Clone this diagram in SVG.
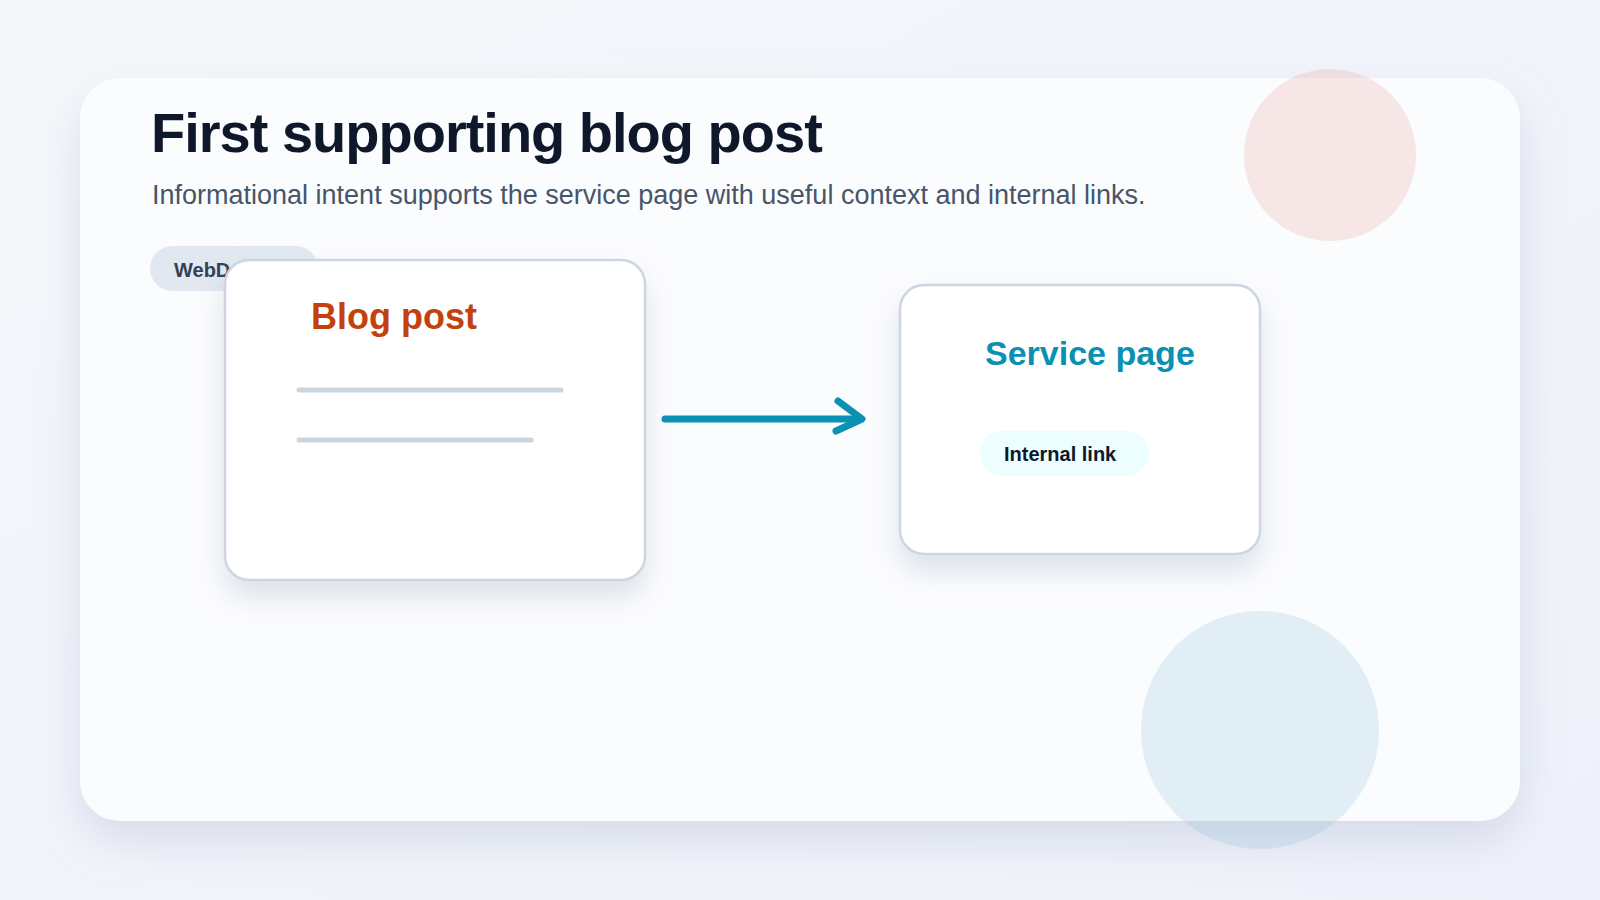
<svg xmlns="http://www.w3.org/2000/svg" width="1600" height="900" viewBox="0 0 1600 900">
  <defs>
    <linearGradient id="bg" x1="0" y1="0" x2="1" y2="1">
      <stop offset="0" stop-color="#f5f7fb"/>
      <stop offset="1" stop-color="#eef1f9"/>
    </linearGradient>
    <filter id="cardShadow" x="-10%" y="-10%" width="120%" height="130%">
      <feDropShadow dx="0" dy="20" stdDeviation="22" flood-color="#a7b0d0" flood-opacity="0.35"/>
    </filter>
    <filter id="nodeShadow" x="-20%" y="-20%" width="140%" height="150%">
      <feDropShadow dx="0" dy="16" stdDeviation="14" flood-color="#94a3b8" flood-opacity="0.3"/>
    </filter>
    <style>
      .sans { font-family: "Liberation Sans", Arial, Helvetica, sans-serif; }
      .node { fill: #ffffff; stroke: #cdd5e1; stroke-width: 2.5; }
      .line { stroke: #cbd5e1; stroke-width: 5; stroke-linecap: round; }
      .conn { fill: none; stroke: #0b91b3; stroke-width: 7; stroke-linecap: round; stroke-linejoin: round; }
    </style>
  </defs>

  <rect width="1600" height="900" fill="url(#bg)"/>

  <g id="card">
    <rect x="80" y="78" width="1440" height="743" rx="40" fill="#fbfcfe" filter="url(#cardShadow)"/>
  </g>

  <g id="decor">
    <circle cx="1330" cy="155" r="86" fill="#e8a49b" opacity="0.25"/>
    <circle cx="1260" cy="730" r="119" fill="#7fb8d4" opacity="0.2"/>
  </g>

  <g id="header">
    <text x="151" y="152" class="sans" font-size="56" font-weight="700" fill="#0f172a" letter-spacing="-1">First supporting blog post</text>
    <text x="152" y="204" class="sans" font-size="27" fill="#475569">Informational intent supports the service page with useful context and internal links.</text>
  </g>

  <g id="tag">
    <rect x="150" y="246" width="168" height="45" rx="22.5" fill="#e2e8f0"/>
    <text x="174" y="277" class="sans" font-size="20" font-weight="700" fill="#334155">WebD</text>
  </g>

  <g id="blog-post">
    <rect x="225" y="260" width="420" height="320" rx="24" class="node" filter="url(#nodeShadow)"/>
    <text x="311" y="329" class="sans" font-size="36" font-weight="700" fill="#c2410c">Blog post</text>
    <line x1="299" y1="390" x2="561" y2="390" class="line"/>
    <line x1="299" y1="440" x2="531" y2="440" class="line"/>
  </g>

  <g id="service-page">
    <rect x="900" y="285" width="360" height="269" rx="24" class="node" filter="url(#nodeShadow)"/>
    <text x="985" y="365" class="sans" font-size="34" font-weight="700" fill="#0891b2">Service page</text>
    <rect x="980" y="431" width="169" height="45" rx="22.5" fill="#ecfeff"/>
    <text x="1004" y="461" class="sans" font-size="20" font-weight="700" fill="#0f172a">Internal link</text>
  </g>

  <g id="connectors">
    <line x1="665" y1="419" x2="857" y2="419" class="conn"/>
    <path d="M838 401 L862 419 L836 431" class="conn"/>
  </g>
</svg>
